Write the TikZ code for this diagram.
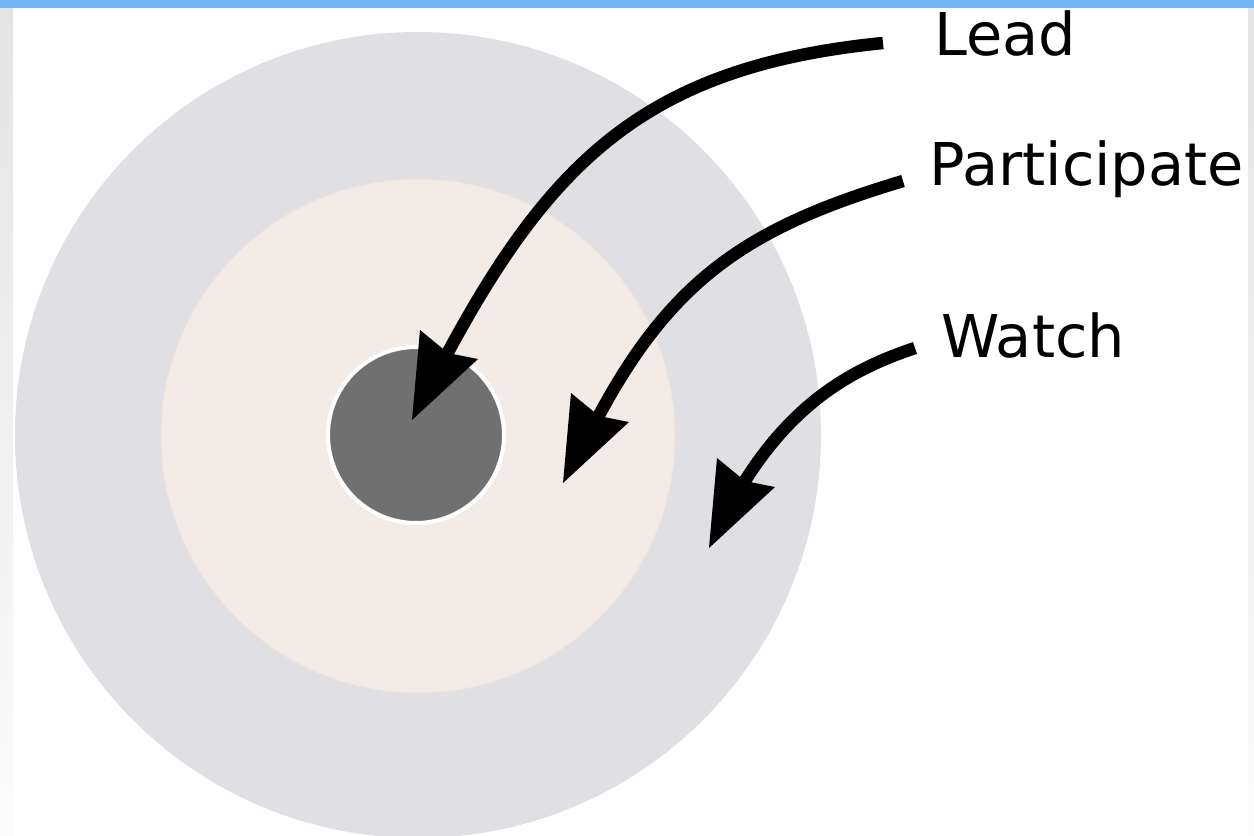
\documentclass[tikz,border=0pt]{standalone}
\usepackage{fontspec}
\setmainfont{DejaVu Sans}
\definecolor{bluebar}{HTML}{74B4F2}
\definecolor{outerc}{HTML}{E0DFE4}
\definecolor{midc}{HTML}{F2EBE6}
\definecolor{midedge}{HTML}{EEE4DC}
\definecolor{innerc}{HTML}{707070}
\definecolor{stripT}{HTML}{E4E4E4}
\definecolor{stripB}{HTML}{FCFCFC}
\tikzset{
  lbl/.style={inner sep=0pt, anchor=base west, font=\fontsize{59}{70}\selectfont, text=black},
  shaft/.style={line width=12.5pt, line cap=butt, draw=black},
  headtip/.pic={\fill[black] (0,0) -- (8,-90) -- (36,-67) -- (66,-61) -- cycle;}
}
\begin{document}
\begin{tikzpicture}[x=1pt,y=-1pt]
\useasboundingbox (0,0) rectangle (1254,836);
\fill[white] (0,0) rectangle (1254,836);
% screenshot edges
\shade[top color=stripT, bottom color=stripB] (0,8) rectangle (13,836);
\shade[top color=stripT, bottom color=stripB] (1248,8) rectangle (1254,836);
\fill[bluebar] (0,0) rectangle (1254,8);
% rings
\begin{scope}
\clip (0,8) rectangle (1254,836);
\fill[outerc] (418,435) circle[radius=403];
\end{scope}
\filldraw[fill=midc, draw=midedge, line width=1pt] (418,436) circle[radius=257];
\filldraw[fill=innerc, draw=white, line width=4pt] (416,435) circle[radius=88];
% labels
\node[lbl] (lead) at (934,55) {Lead};
\node[lbl] (part) at (929,185) {Participate};
\node[lbl] (watch) at (941,357) {Watch};
% arrow tips
\coordinate (tl) at (412,420);
\coordinate (tp) at (563,483);
\coordinate (tw) at (709,548);
\coordinate (sl) at (883,43);
\coordinate (sp) at (903,181);
\coordinate (sw) at (915,348);
% shafts
\draw[shaft] (sl) .. controls (653,66) and (554,154) .. ([shift={(34,-64)}]tl);
\draw[shaft] (sp) .. controls (749,227) and (672,278) .. ([shift={(34,-64)}]tp);
\draw[shaft] (sw) .. controls (855,368) and (795,400) .. ([shift={(34,-64)}]tw);
% heads
\pic at (tl) {headtip};
\pic at (tp) {headtip};
\pic at (tw) {headtip};
\end{tikzpicture}
\end{document}
